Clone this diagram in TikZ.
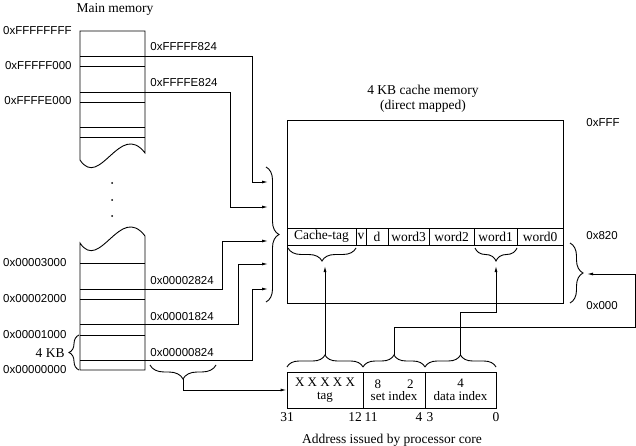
\documentclass[tikz,border=0pt]{standalone}
\usepackage{fontspec}
\setmainfont{Liberation Serif}
\setsansfont{Liberation Sans}
\usetikzlibrary{arrows.meta,decorations.pathreplacing}

\tikzset{
  hexlabel/.style={font=\sffamily\fontsize{11.5}{13}\selectfont,inner sep=1pt},
  txt/.style={font=\fontsize{13.5}{15}\selectfont,inner sep=0pt},
  cell/.style={draw,txt,minimum height=17pt},
  field/.style={draw,font=\fontsize{13}{12.5}\selectfont,inner sep=0pt,minimum height=36pt,align=center},
  brc/.style={decorate,decoration={brace,amplitude=#1}},
  brc/.default=13pt,
  arr/.style={-{Latex[length=6pt,width=3pt]}}
}

\begin{document}
\begin{tikzpicture}[x=1pt,y=-1pt,line width=0.9pt]
\useasboundingbox (0,0) rectangle (636,446);
% main memory column
\draw (80,160)--(80,31)--(145,31)--(145,153)
  .. controls (120,120) and (100,190) .. (80,160);
\draw (145,236) .. controls (120,203) and (100,273) .. (80,243)
  --(80,370)--(145,370)--cycle;
\foreach \y in {56,66,92,102,127,137,263,289,299,324,335,360}
  \draw (80,\y)--(145,\y);
\foreach \y in {183,200,216}
  \fill (112,\y) circle (1pt);
\node[txt] (mainlbl) at (115,9) {Main memory};
\node[hexlabel,anchor=east] (aFFFF) at (73,31) {0xFFFFFFFF};
\node[hexlabel,anchor=east] (aF000) at (73,66) {0xFFFFF000};
\node[hexlabel,anchor=east] (aE000) at (73,101) {0xFFFFE000};
\node[hexlabel,anchor=east] (a3000) at (68,263) {0x00003000};
\node[hexlabel,anchor=east] (a2000) at (68,299) {0x00002000};
\node[hexlabel,anchor=east] (a1000) at (68,335) {0x00001000};
\node[hexlabel,anchor=east] (a0000) at (68,370) {0x00000000};
\draw[brc=10pt] (79,370)--(79,335);
\node[txt,anchor=east] (kb) at (65,353) {4 KB};
\node[hexlabel,anchor=west] (lF824) at (149,47) {0xFFFFF824};
\node[hexlabel,anchor=west] (lE824) at (149,83) {0xFFFFE824};
\node[hexlabel,anchor=west] (l2824) at (149,281) {0x00002824};
\node[hexlabel,anchor=west] (l1824) at (149,317) {0x00001824};
\node[hexlabel,anchor=west] (l0824) at (149,353) {0x00000824};
\coordinate (mF824) at (145,56);
\coordinate (mE824) at (145,92);
\coordinate (m2824) at (145,289);
\coordinate (m1824) at (145,324);
\coordinate (m0824) at (145,360);
\draw[brc=14pt,decoration={mirror}] (150,365)--(216,365);
\coordinate (offtip) at (183,379);
% cache memory
\node[txt,align=center] (cachelbl) at (423,99) {4 KB cache memory\\(direct mapped)};
\node[draw,minimum width=276pt,minimum height=183pt,inner sep=0pt] (cache) at (425,211.5) {};
\node[cell,minimum width=69pt] (ctag) at (321.5,236.5) {Cache-tag};
\node[cell,minimum width=10pt] (cv) at (361,236.5) {v};
\node[cell,minimum width=22pt] (cd) at (377,236.5) {d};
\node[cell,minimum width=41pt] (w3) at (408.5,236.5) {word3};
\node[cell,minimum width=45pt] (w2) at (451.5,236.5) {word2};
\node[cell,minimum width=43pt] (w1) at (495.5,236.5) {word1};
\node[cell,minimum width=46pt] (w0) at (540,236.5) {word0};
\node[hexlabel,anchor=west] (cFFF) at (585,123) {0xFFF};
\node[hexlabel,anchor=west] (c820) at (585,236) {0x820};
\node[hexlabel,anchor=west] (c000) at (585,306) {0x000};
\draw[brc=13pt] (266,167)--(266,302);
\draw[brc=13pt] (570,243)--(570,303);
\draw[brc=13pt,decoration={mirror}] (288,248)--(356,248);
\draw[brc=13pt,decoration={mirror}] (475,248)--(517,248);
\coordinate (in1) at (268,182);
\coordinate (in2) at (268,207);
\coordinate (in3) at (268,241);
\coordinate (in4) at (268,264);
\coordinate (in5) at (268,289);
\coordinate (ctagtip) at (322,266);
\coordinate (w1tip) at (496,266);
\coordinate (rtip) at (587,274);
% address
\node[field,minimum width=76pt] (ftag) at (325,390) {X X X X X\\tag};
\node[field,minimum width=62pt] (fset) at (394,390) {8\hspace{2em}2\\set index};
\node[field,minimum width=71pt] (fdata) at (460.5,390) {4\\data index};
\draw[brc=12pt] (287,367)--(363,367);
\draw[brc=12pt] (363,367)--(425,367);
\draw[brc=12pt] (425,367)--(496,367);
\coordinate (ttag) at (325,355);
\coordinate (tset) at (394,355);
\coordinate (tdata) at (460.5,355);
\node[txt] (b31) at (287,417) {31};
\node[txt] (b12) at (355,417) {12};
\node[txt] (b11) at (371,417) {11};
\node[txt] (b4) at (419,417) {4};
\node[txt] (b3) at (430,417) {3};
\node[txt] (b0) at (496,417) {0};
\node[txt] (addrlbl) at (392,440) {Address issued by processor core};
% connectors
\draw[arr] (mF824) -- ++(107,0) |- (in1);
\draw[arr] (mE824) -- ++(85,0) |- (in2);
\draw[arr] (m2824) -- ++(77,0) |- (in3);
\draw[arr] (m1824) -- ++(93,0) |- (in4);
\draw[arr] (m0824) -- ++(107,0) |- (in5);
\draw[arr] (offtip) |- (ftag.west);
\draw[arr] (ttag) -- (ttag |- ctagtip);
\draw[arr] (tdata) -- ++(0,-43) -| (w1tip);
\draw[arr] (tset) -- ++(0,-28) -| (635,274) -- (rtip);
\end{tikzpicture}
\end{document}
